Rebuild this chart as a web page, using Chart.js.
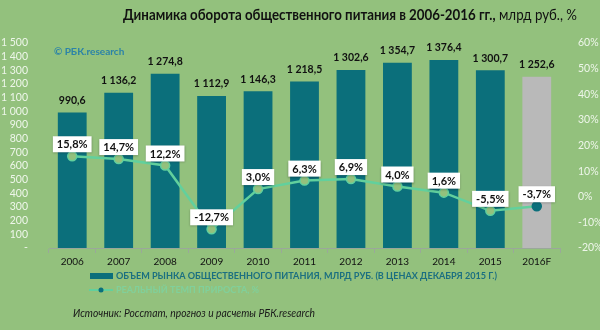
<!DOCTYPE html>
<html>
<head>
<meta charset="utf-8">
<script src="https://cdn.jsdelivr.net/npm/chart.js@4.4.1/dist/chart.umd.min.js"></script>
<style>
    html, body { margin: 0; padding: 0; background: #93c17d; }
    #wrap { position: relative; width: 600px; height: 330px; }
</style>
</head>
<body>
<div id="wrap"><canvas id="chart" width="600" height="330"></canvas></div>
<script>
// Оборот общепита, млрд руб. и реальный темп прироста, %
const years = ["2006", "2007", "2008", "2009", "2010", "2011", "2012", "2013", "2014", "2015", "2016F"];
const turnover = [990.6, 1136.2, 1274.8, 1112.9, 1146.3, 1218.5, 1302.6, 1354.7, 1376.4, 1300.7, 1252.6];
const growth = [15.8, 14.7, 12.2, -12.7, 3.0, 6.3, 6.9, 4.0, 1.6, -5.5, -3.7];
const leftTicks = [0, 100, 200, 300, 400, 500, 600, 700, 800, 900, 1000, 1100, 1200, 1300, 1400, 1500];
const rightTicks = [-20, -10, 0, 10, 20, 30, 40, 50, 60];

const BG = '#93c17d';
const TEAL = '#0b6f7b';
const GREY = '#b9b9b9';
const MINT = '#62d09d';
const FONT = 'Lato, "Open Sans", sans-serif';

const fmtNum = v => {
    const [i, d] = v.toFixed(1).split('.');
    return i.replace(/\B(?=(\d{3})+(?!\d))/g, ' ') + ',' + d;
};
const fmtPct = v => v.toFixed(1).replace('.', ',') + '%';

// текст, сжатый по ширине
function fitText(c, txt, x, y, width) {
    const w = c.measureText(txt).width;
    c.save();
    c.translate(x, y);
    c.scale(width / w, 1);
    c.fillText(txt, 0, 0);
    c.restore();
}

// фон, заголовок, подписи, легенда и источник
const decor = {
    id: 'decor',
    beforeDraw(chart) {
        const c = chart.ctx;
        c.save();
        c.fillStyle = BG;
        c.fillRect(0, 0, chart.width, chart.height);
        c.restore();
    },
    afterDraw(chart) {
        const c = chart.ctx;
        c.save();
        // заголовок
        const boldPart = 'Динамика оборота общественного питания в 2006-2016 гг.,';
        const normPart = ' млрд руб., %';
        c.textBaseline = 'middle';
        c.fillStyle = '#111';
        c.font = 'bold 15px ' + FONT;
        const w1 = c.measureText(boldPart).width;
        c.font = '15px ' + FONT;
        const w2 = c.measureText(normPart).width;
        const scale = 454 / (w1 + w2);
        c.translate(123, 15);
        c.scale(scale, 1);
        c.font = 'bold 15px ' + FONT;
        c.textAlign = 'left';
        c.fillText(boldPart, 0, 0);
        c.font = '15px ' + FONT;
        c.fillText(normPart, w1, 0);
        c.restore();

        c.save();
        c.textBaseline = 'middle';
        c.textAlign = 'left';
        c.font = 'bold 10px ' + FONT;
        c.fillStyle = '#2b83a8';
        c.fillText('© РБК.research', 54, 52);

        // легенда
        c.fillStyle = TEAL;
        c.fillRect(90, 273, 23, 6);
        c.font = 'bold 10px ' + FONT;
        c.fillStyle = '#1b6f80';
        fitText(c, 'ОБЪЕМ РЫНКА ОБЩЕСТВЕННОГО ПИТАНИЯ, МЛРД РУБ. (В ЦЕНАХ ДЕКАБРЯ 2015 Г.)', 116, 276, 381);

        c.strokeStyle = MINT;
        c.lineWidth = 2;
        c.beginPath();
        c.moveTo(89, 290);
        c.lineTo(113, 290);
        c.stroke();
        c.fillStyle = TEAL;
        c.beginPath();
        c.arc(101, 290, 2.5, 0, Math.PI * 2);
        c.fill();
        c.fillStyle = '#80d09b';
        fitText(c, 'РЕАЛЬНЫЙ ТЕМП ПРИРОСТА, %', 116, 290, 143);

        // источник
        c.font = 'italic 11px ' + FONT;
        c.fillStyle = '#1a1a1a';
        fitText(c, 'Источник: Росстат, прогноз и расчеты РБК.research', 73, 313, 242);
        c.restore();
    }
};

// подписи значений над столбцами и точками
const valueLabels = {
    id: 'valueLabels',
    afterDatasetsDraw(chart) {
        const c = chart.ctx;
        c.save();
        c.textAlign = 'center';
        c.textBaseline = 'middle';
        c.font = 'bold 10.5px ' + FONT;

        chart.getDatasetMeta(0).data.forEach((bar, i) => {
            c.fillStyle = '#111';
            c.fillText(fmtNum(turnover[i]), bar.x, bar.y - 12);
        });

        c.font = 'bold 11px ' + FONT;
        chart.getDatasetMeta(1).data.forEach((pt, i) => {
            const txt = fmtPct(growth[i]);
            const w = c.measureText(txt).width + 8;
            const h = 16;
            const cy = pt.y - 12;
            c.shadowColor = 'rgba(0,0,0,0.25)';
            c.shadowBlur = 2;
            c.shadowOffsetY = 1;
            c.fillStyle = '#ffffff';
            c.fillRect(pt.x - w / 2, cy - h / 2, w, h);
            c.shadowColor = 'transparent';
            c.fillStyle = '#111';
            c.fillText(txt, pt.x, cy + 0.5);
        });
        c.restore();
    }
};

new Chart(document.getElementById('chart'), {
    data: {
        labels: years,
        datasets: [
            {
                type: 'bar',
                label: 'Объем рынка',
                data: turnover,
                backgroundColor: years.map(y => y.endsWith('F') ? GREY : TEAL),
                borderWidth: 0,
                categoryPercentage: 1,
                barPercentage: 0.62,
                yAxisID: 'y',
                order: 2
            },
            {
                type: 'line',
                label: 'Темп прироста',
                data: growth,
                borderColor: MINT,
                borderWidth: 2.5,
                tension: 0,
                pointRadius: 4.5,
                pointBorderWidth: 1.5,
                pointBorderColor: years.map(y => y.endsWith('F') ? TEAL : MINT),
                pointBackgroundColor: years.map(y => y.endsWith('F') ? TEAL : BG),
                yAxisID: 'y1',
                order: 1
            }
        ]
    },
    options: {
        responsive: false,
        animation: false,
        layout: { padding: { top: 43, left: 0, right: 0, bottom: 0 } },
        plugins: {
            legend: { display: false },
            tooltip: { enabled: false }
        },
        scales: {
            x: {
                grid: {
                    offset: true,
                    drawOnChartArea: false,
                    drawTicks: true,
                    tickLength: 5,
                    color: '#9aa89a'
                },
                border: { display: true, color: '#9aa89a', width: 1 },
                ticks: { color: '#111', font: { family: FONT, size: 10 }, padding: 3, autoSkip: false, maxRotation: 0 },
                afterFit: s => { s.height = 82; }
            },
            y: {
                position: 'left',
                min: 0,
                max: 1500,
                afterBuildTicks: s => { s.ticks = leftTicks.map(v => ({ value: v })); },
                grid: { display: false },
                border: { display: false },
                ticks: {
                    color: '#eef6ea',
                    font: { family: FONT, size: 10.5 },
                    padding: 13,
                    autoSkip: false,
                    callback: v => v === 0 ? '-' : String(v).replace(/\B(?=(\d{3})+(?!\d))/g, ' ')
                },
                afterFit: s => { s.width = 49; }
            },
            y1: {
                position: 'right',
                min: -20,
                max: 60,
                afterBuildTicks: s => { s.ticks = rightTicks.map(v => ({ value: v })); },
                grid: { display: false },
                border: { display: false },
                ticks: {
                    color: '#eef6ea',
                    font: { family: FONT, size: 10.5 },
                    padding: 10,
                    autoSkip: false,
                    callback: v => v + '%'
                },
                afterFit: s => { s.width = 40; }
            }
        }
    },
    plugins: [decor, valueLabels]
});
</script>
</body>
</html>
